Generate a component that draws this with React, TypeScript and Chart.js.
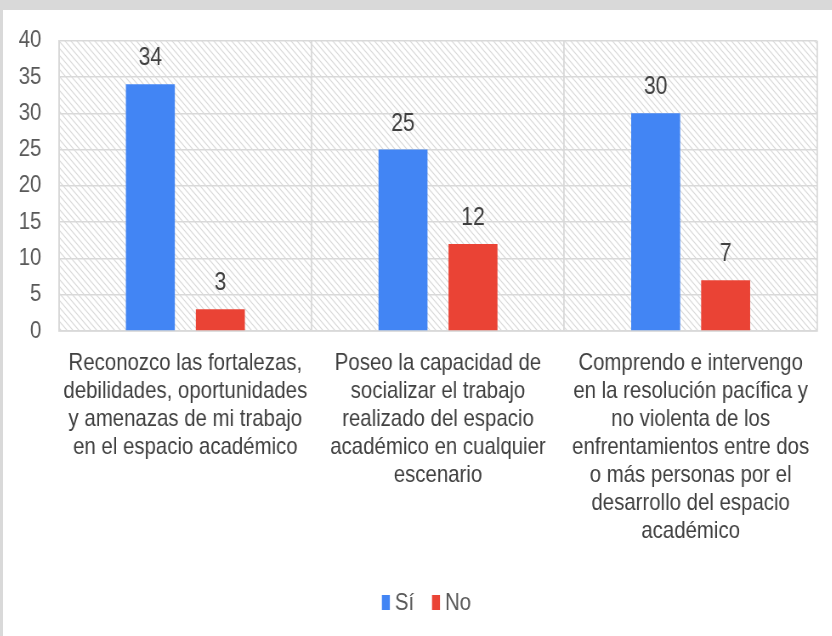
import React, { useEffect, useRef } from "react";
import { Chart, registerables } from "chart.js";

Chart.register(...registerables);

const categories: string[][] = [
  ["Reconozco las fortalezas,", "debilidades, oportunidades", "y amenazas de mi trabajo", "en el espacio académico"],
  ["Poseo la capacidad de", "socializar el trabajo", "realizado del espacio", "académico en cualquier", "escenario"],
  ["Comprendo e intervengo", "en la resolución pacífica y", "no violenta de los", "enfrentamientos entre dos", "o más personas por el", "desarrollo del espacio", "académico"],
];
const siValues = [34, 25, 30];
const noValues = [3, 12, 7];
const seriesNames = ["Sí", "No"];
const seriesColors = ["#4285F4", "#EA4335"];
const yTicks = { min: 0, max: 40, step: 5 };

const FONT = "'Liberation Sans', Arial, sans-serif";
const SX = 0.85; // horizontal squeeze of the reference image
const CW = 998; // drawing width before squeeze
const CH = 626;

function makePattern(): CanvasPattern | string {
  const c = document.createElement("canvas");
  const s = 7;
  c.width = s;
  c.height = s;
  const ctx = c.getContext("2d");
  if (!ctx) return "#fff";
  ctx.fillStyle = "#ffffff";
  ctx.fillRect(0, 0, s, s);
  ctx.strokeStyle = "#d9d9d9";
  ctx.lineWidth = 1.2;
  ctx.beginPath();
  ctx.moveTo(-1, -1);
  ctx.lineTo(s + 1, s + 1);
  ctx.moveTo(-1, s - 1);
  ctx.lineTo(1, s + 1);
  ctx.moveTo(s - 1, -1);
  ctx.lineTo(s + 1, 1);
  ctx.stroke();
  const p = ctx.createPattern(c, "repeat");
  return p || "#fff";
}

const hatchPlugin = {
  id: "hatchBg",
  beforeDraw(chart: any) {
    const { ctx, chartArea } = chart;
    if (!chartArea) return;
    ctx.save();
    ctx.fillStyle = makePattern();
    ctx.fillRect(chartArea.left, chartArea.top, chartArea.right - chartArea.left, chartArea.bottom - chartArea.top);
    ctx.restore();
  },
};

const valueLabelPlugin = {
  id: "valueLabels",
  afterDatasetsDraw(chart: any) {
    const { ctx } = chart;
    ctx.save();
    ctx.font = `25px ${FONT}`;
    ctx.fillStyle = "#404040";
    ctx.textAlign = "center";
    ctx.textBaseline = "alphabetic";
    chart.data.datasets.forEach((ds: any, i: number) => {
      const meta = chart.getDatasetMeta(i);
      meta.data.forEach((bar: any, j: number) => {
        ctx.fillText(String(ds.data[j]), bar.x, bar.y - 19);
      });
    });
    ctx.restore();
  },
};

// bottom legend drawn with exact spacing of the reference
const legendPlugin = {
  id: "bottomLegend",
  afterDraw(chart: any) {
    const { ctx } = chart;
    const boxW = 9.4;
    const boxH = 15;
    const gap = 5.9;
    const spacing = 21;
    const baseline = 600;
    ctx.save();
    ctx.font = `24px ${FONT}`;
    ctx.textBaseline = "alphabetic";
    ctx.textAlign = "left";
    const items = chart.data.datasets.map((ds: any) => ({
      text: ds.label as string,
      color: ds.backgroundColor as string,
      w: ctx.measureText(ds.label).width,
    }));
    const total =
      items.reduce((a: number, it: any) => a + boxW + gap + it.w, 0) + spacing * (items.length - 1);
    let x = 498.2 - total / 2;
    items.forEach((it: any) => {
      ctx.fillStyle = it.color;
      ctx.fillRect(x, baseline - boxH, boxW, boxH);
      x += boxW + gap;
      ctx.fillStyle = "#595959";
      ctx.fillText(it.text, x, baseline);
      x += it.w + spacing;
    });
    ctx.restore();
  },
};

export default function App() {
  const ref = useRef<HTMLCanvasElement>(null);

  useEffect(() => {
    if (!ref.current) return;
    const chart = new Chart(ref.current, {
      type: "bar",
      data: {
        labels: categories,
        datasets: [
          { label: seriesNames[0], data: siValues, backgroundColor: seriesColors[0] },
          { label: seriesNames[1], data: noValues, backgroundColor: seriesColors[1] },
        ],
      },
      options: {
        animation: false,
        responsive: false,
        maintainAspectRatio: false,
        devicePixelRatio: 1,
        layout: { padding: { top: 30.7, right: 40.4, bottom: 0, left: 0 } },
        datasets: {
          bar: { categoryPercentage: 0.554, barPercentage: 0.7 },
        },
        plugins: {
          tooltip: { enabled: false },
          legend: { display: false },
        },
        scales: {
          x: {
            grid: { color: "#d9d9d9", lineWidth: 1.8, offset: true, drawTicks: false },
            border: { color: "#d9d9d9", width: 1.8 },
            ticks: {
              color: "#404040",
              font: { family: FONT, size: 24, lineHeight: 28 / 24 },
              padding: 18,
              maxRotation: 0,
              autoSkip: false,
            },
            afterFit: (scale: any) => {
              scale.height = 305;
              scale.paddingLeft = 0;
              scale.paddingRight = 0;
            },
          },
          y: {
            min: yTicks.min,
            max: yTicks.max,
            grid: { color: "#d9d9d9", lineWidth: 1.5, drawTicks: false },
            border: { color: "#d9d9d9", width: 1.8 },
            ticks: {
              stepSize: yTicks.step,
              color: "#595959",
              font: { family: FONT, size: 24 },
              padding: 20.7,
            },
            afterFit: (scale: any) => {
              scale.width = 65.9;
              scale.paddingTop = 0;
              scale.paddingBottom = 0;
            },
          },
        },
      },
      plugins: [hatchPlugin, valueLabelPlugin, legendPlugin],
    });
    return () => chart.destroy();
  }, []);

  return (
    <div
      style={{
        position: "fixed",
        left: 0,
        top: 0,
        width: 832,
        height: 636,
        background: "#d9d9d9",
        overflow: "hidden",
      }}
    >
      <div
        style={{
          position: "absolute",
          left: 3,
          top: 10,
          width: 829,
          height: 626,
          background: "#fff",
          overflow: "hidden",
        }}
      >
        <div
          style={{
            position: "absolute",
            left: 0,
            top: 0,
            width: CW,
            height: CH,
            transform: `scaleX(${SX})`,
            transformOrigin: "0 0",
          }}
        >
          <canvas ref={ref} width={CW} height={CH} style={{ display: "block", width: CW, height: CH }} />
        </div>
      </div>
    </div>
  );
}
